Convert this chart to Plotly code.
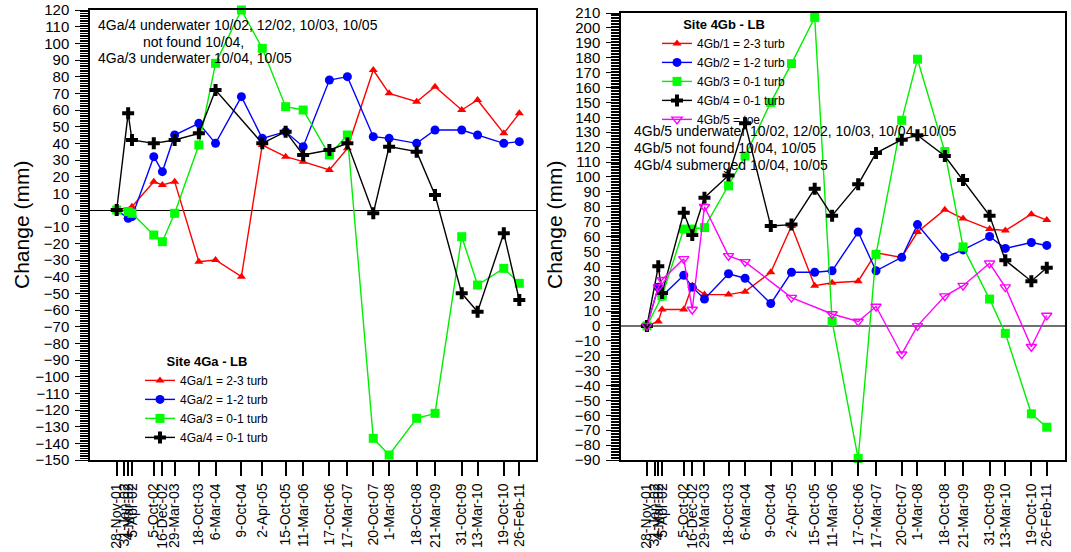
import plotly.graph_objects as go

# Survey dates (shared by both sites) and their printed labels
survey_dates = ["2001-11-28", "2002-01-31", "2002-03-04", "2002-04-05", "2002-10-05",
                "2002-12-16", "2003-03-29", "2003-10-18", "2004-03-06", "2004-10-09",
                "2005-04-02", "2005-10-15", "2006-03-11", "2006-10-17", "2007-03-17",
                "2007-10-20", "2008-03-01", "2008-10-18", "2009-03-21", "2009-10-31",
                "2010-03-13", "2010-10-19", "2011-02-26"]
date_labels = ["28-Nov-01", "31-Jan-02", "4-Mar-02", "5-Apr-02", "5-Oct-02",
               "16-Dec-02", "29-Mar-03", "18-Oct-03", "6-Mar-04", "9-Oct-04",
               "2-Apr-05", "15-Oct-05", "11-Mar-06", "17-Oct-06", "17-Mar-07",
               "20-Oct-07", "1-Mar-08", "18-Oct-08", "21-Mar-09", "31-Oct-09",
               "13-Mar-10", "19-Oct-10", "26-Feb-11"]

# Site 4Ga - LB : change in mm (None = no reading)
ga1 = [0, None, None, 2, 17, 15, 17, -31, -30, -40, 39, 32, 29, 24, 37, 84, 70, 65, 74, 60, 66, 46, 58]
ga2 = [0, None, -5, -4, 32, 23, 45, 52, 40, 68, 43, 47, 38, 78, 80, 44, 43, 40, 48, 48, 45, 40, 41]
ga3 = [0, None, -1, -2, -15, -19, -2, 39, 88, 120, 97, 62, 60, 33, 45, -137, -147, -125, -122, -16, -45, -35, -44]
ga4 = [0, None, 58, 42, 40, None, 42, 46, 72, None, 40, 47, 33, 36, 40, -2, 38, 35, 9, -50, -61, -14, -54]

# Site 4Gb - LB : change in mm
gb1 = [0, None, 3, 11, 11, 27, 21, 21, 23, 36, 67, 27, 29, 30, 49, 46, 63, 78, 72, 65, 64, 75, 71]
gb2 = [0, None, 26, 20, 34, 26, 18, 35, 32, 15, 36, 36, 37, 63, 37, 46, 68, 46, 51, 60, 52, 56, 54]
gb3 = [0, None, None, 20, 65, 65, 66, 94, 114, 150, 176, 207, 3, -89, 48, 138, 179, 117, 53, 18, -5, -59, -68]
gb4 = [0, None, 40, 22, 76, 61, 86, 101, 136, 67, 68, 92, 74, 95, 116, 125, 128, 114, 98, 74, 44, 30, 39]
gb5 = [0, None, 26, 31, 45, 11, 80, 47, 43, None, 19, None, 8, 3, 13, -19, 0, 20, 27, 42, 26, -14, 7]

ga_names = ["4Ga/1 = 2-3 turb", "4Ga/2 = 1-2 turb", "4Ga/3 = 0-1 turb", "4Ga/4 = 0-1 turb"]
gb_names = ["4Gb/1 = 2-3 turb", "4Gb/2 = 1-2 turb", "4Gb/3 = 0-1 turb", "4Gb/4 = 0-1 turb", "4Gb/5 = toe"]

ga_range = [-150, 120]
gb_range = [-90, 210]

FONT = "Arial, Liberation Sans, sans-serif"
W, H = 1071, 552

styles = [
    dict(color="#ff0000", symbol="triangle-up", size=8),
    dict(color="#0000ff", symbol="circle", size=9),
    dict(color="#00ee00", symbol="square", size=9),
    dict(color="#000000", symbol="cross", size=10),
    dict(color="#ff00ff", symbol="triangle-down-open", size=9),
]


def add_series(fig, values, name, st, xa, ya, legend):
    mc = "#00ff00" if st["symbol"] == "square" else st["color"]
    marker = dict(symbol=st["symbol"], size=st["size"], color=mc,
                  line=dict(width=0, color=mc))
    if st["symbol"].endswith("open"):
        marker["line"] = dict(width=1.4, color=mc)
    fig.add_trace(go.Scatter(
        x=survey_dates, y=values, name=name, mode="lines+markers",
        connectgaps=True, cliponaxis=False,
        line=dict(color=st["color"], width=1.4),
        marker=marker, xaxis=xa, yaxis=ya, legend=legend))


fig = go.Figure()
for vals, nm, st in zip([ga1, ga2, ga3, ga4], ga_names, styles):
    add_series(fig, vals, nm, st, "x", "y", "legend")
for vals, nm, st in zip([gb1, gb2, gb3, gb4, gb5], gb_names, styles):
    add_series(fig, vals, nm, st, "x2", "y2", "legend2")


def px_x(p):
    return p / W


def px_y(p):
    return 1 - p / H


xcommon = dict(
    type="date", tickmode="array", tickvals=survey_dates, ticktext=date_labels,
    tickangle=-90, ticks="outside", ticklen=14, tickwidth=1.5, tickcolor="black",
    showgrid=False, showline=True, linecolor="black", linewidth=1.5, mirror=True,
    tickfont=dict(family=FONT, size=14, color="black"), ticklabelstandoff=2,
    zeroline=False, automargin=False,
)
ycommon = dict(
    tickmode="linear", tick0=0, dtick=10,
    ticks="outside", ticklen=13, tickwidth=1.3, tickcolor="black",
    showgrid=False, showline=True, linecolor="black", linewidth=1.5, mirror=True,
    tickfont=dict(family=FONT, size=15, color="black"), ticklabelstandoff=3,
    zeroline=True, automargin=False,
    # fine 1 mm tick marks between the labelled 10 mm ticks
    minor=dict(dtick=1, ticks="outside", ticklen=8, tickwidth=1, tickcolor="black"),
)

dom_left = [px_x(90), px_x(536)]
dom_right = [px_x(621), px_x(1065)]
ydom_left = [px_y(460), px_y(10)]
ydom_right = [px_y(460), px_y(13)]

fig.update_layout(
    template="none",
    width=W, height=H,
    margin=dict(l=0, r=0, t=0, b=0, autoexpand=False),
    paper_bgcolor="white", plot_bgcolor="white",
    showlegend=True,
    xaxis=dict(xcommon, domain=dom_left, anchor="y",
               range=["2001-04-18", "2011-07-16"]),
    yaxis=dict(ycommon, domain=ydom_left, anchor="x",
               range=ga_range, zerolinecolor="black", zerolinewidth=1.2),
    xaxis2=dict(xcommon, domain=dom_right, anchor="y2",
                range=["2001-04-23", "2011-07-30"]),
    yaxis2=dict(ycommon, domain=ydom_right, anchor="x2",
                range=gb_range, zerolinecolor="#707070", zerolinewidth=1.5),
    legend=dict(
        x=px_x(140), y=px_y(349), xanchor="left", yanchor="top",
        bgcolor="rgba(0,0,0,0)", borderwidth=0,
        font=dict(family=FONT, size=12, color="black"),
        title=dict(text="<b>Site 4Ga - LB</b>", side="top center",
                   font=dict(family=FONT, size=13, color="black")),
        itemwidth=30,
    ),
    legend2=dict(
        x=px_x(657), y=px_y(12), xanchor="left", yanchor="top",
        bgcolor="rgba(0,0,0,0)", borderwidth=0,
        font=dict(family=FONT, size=12, color="black"),
        title=dict(text="<b>Site 4Gb - LB</b>", side="top center",
                   font=dict(family=FONT, size=13, color="black")),
        itemwidth=30,
    ),
)

notes = [
    ("4Ga/4 underwater 10/02, 12/02, 10/03, 10/05", 96, 25),
    ("not found 10/04,", 141, 42),
    ("4Ga/3 underwater 10/04, 10/05", 96, 58),
    ("4Gb/5 underwater 10/02, 12/02, 10/03, 10/04, 10/05", 632, 131),
    ("4Gb/5 not found 10/04, 10/05", 632, 148),
    ("4Gb/4 submerged 10/04, 10/05", 632, 165),
]
for txt, x0, y0 in notes:
    fig.add_annotation(text=txt, xref="paper", yref="paper", x=px_x(x0), y=px_y(y0),
                       xanchor="left", yanchor="middle", showarrow=False,
                       font=dict(family=FONT, size=14, color="black"))

for x0 in (22, 555):
    fig.add_annotation(text="Change (mm)", xref="paper", yref="paper",
                       x=px_x(x0), y=px_y(225), textangle=-90,
                       xanchor="center", yanchor="middle", showarrow=False,
                       font=dict(family=FONT, size=21, color="black"))

fig.write_html("out.html")
